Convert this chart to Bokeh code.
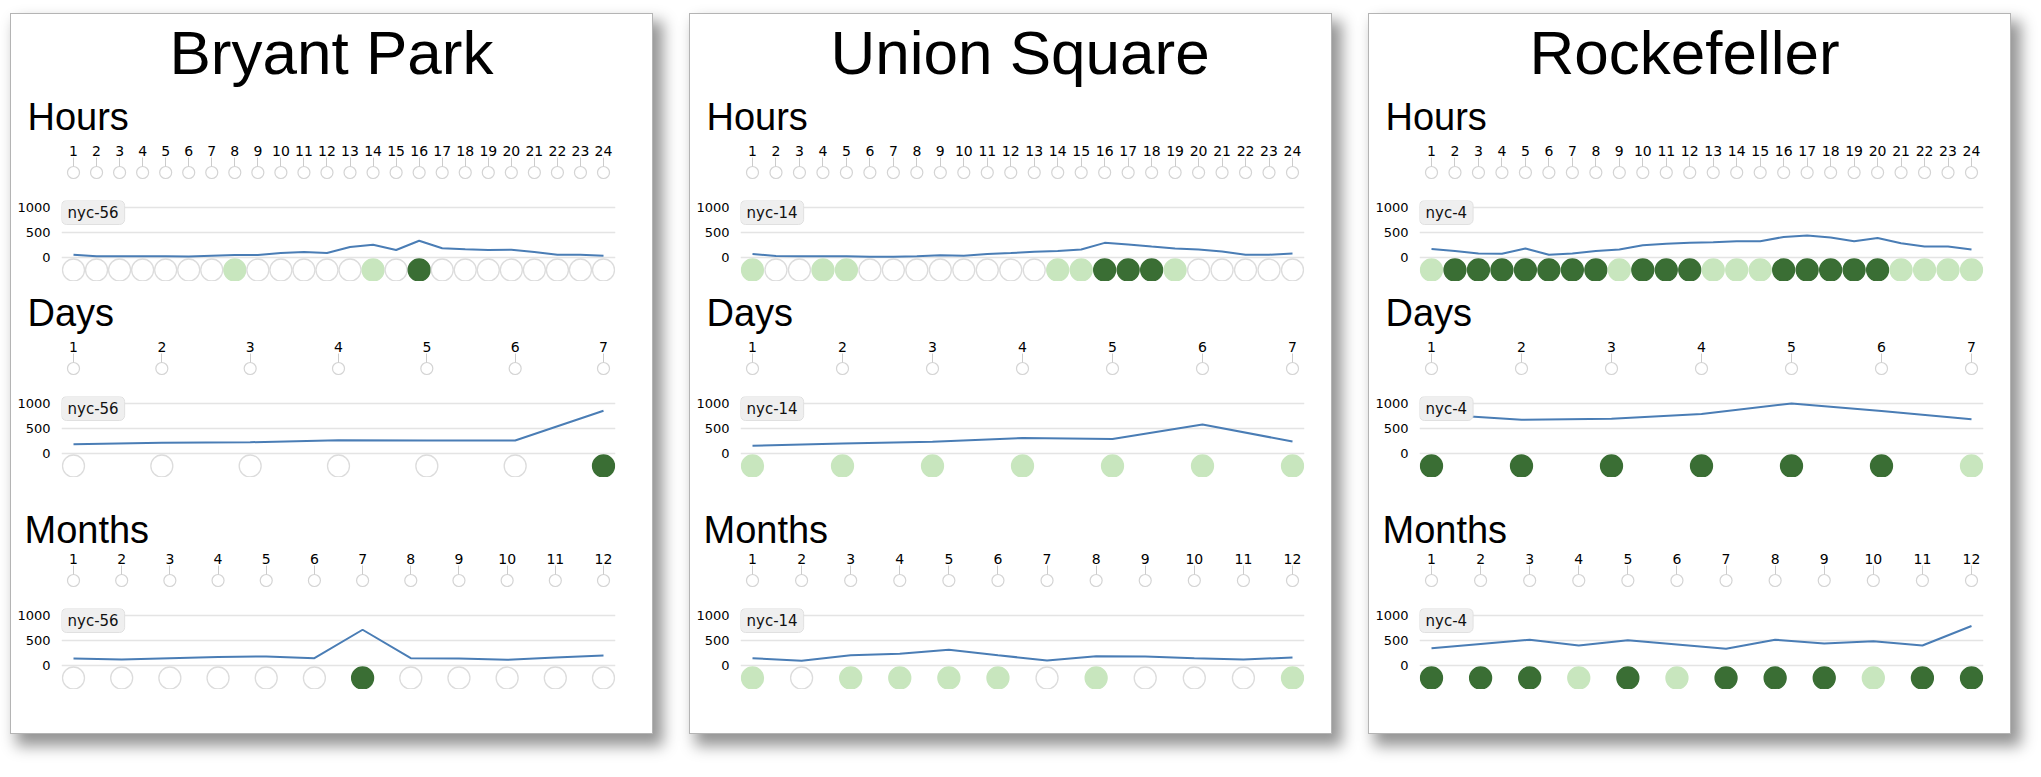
from bokeh.plotting import figure
from bokeh.layouts import column, row
from bokeh.models import Range1d, FixedTicker, Label, Spacer
from bokeh.embed import file_html
from bokeh.resources import INLINE

# ---------------- data ----------------
hours = list(range(1, 25))
days = list(range(1, 8))
months = list(range(1, 13))

station_names = ["Bryant Park", "Union Square", "Rockefeller"]
station_ids = ["nyc-56", "nyc-14", "nyc-4"]

# counts per hour / day / month
bp_hours = [45, 15, 15, 15, 15, 10, 25, 40, 40, 80, 100, 80, 200, 245, 140, 325, 175, 155, 140, 145, 100, 45, 45, 25]
bp_days = [175, 205, 215, 255, 250, 250, 845]
bp_months = [130, 110, 137, 158, 171, 137, 705, 137, 130, 103, 150, 192]

us_hours = [60, 20, 13, 13, 13, 7, 7, 13, 33, 26, 60, 79, 105, 118, 150, 283, 250, 210, 171, 150, 112, 46, 46, 72]
us_days = [145, 190, 225, 300, 280, 570, 230]
us_months = [136, 84, 195, 227, 305, 195, 91, 175, 169, 136, 110, 149]

rk_hours = [158, 118, 72, 66, 171, 46, 72, 118, 151, 237, 263, 283, 296, 316, 316, 401, 428, 388, 316, 382, 276, 211, 211, 151]
rk_days = [780, 665, 685, 780, 990, 840, 675]
rk_months = [337, 422, 506, 389, 493, 409, 325, 506, 428, 474, 389, 779]

# status level per slot: 0 = none, 1 = light, 2 = dark
bp_hours_lvl = [0, 0, 0, 0, 0, 0, 0, 1, 0, 0, 0, 0, 0, 1, 0, 2, 0, 0, 0, 0, 0, 0, 0, 0]
bp_days_lvl = [0, 0, 0, 0, 0, 0, 2]
bp_months_lvl = [0, 0, 0, 0, 0, 0, 2, 0, 0, 0, 0, 0]

us_hours_lvl = [1, 0, 0, 1, 1, 0, 0, 0, 0, 0, 0, 0, 0, 1, 1, 2, 2, 2, 1, 0, 0, 0, 0, 0]
us_days_lvl = [1, 1, 1, 1, 1, 1, 1]
us_months_lvl = [1, 0, 1, 1, 1, 1, 0, 1, 0, 0, 0, 1]

rk_hours_lvl = [1, 2, 2, 2, 2, 2, 2, 2, 1, 2, 2, 2, 1, 1, 1, 2, 2, 2, 2, 2, 1, 1, 1, 1]
rk_days_lvl = [2, 2, 2, 2, 2, 2, 1]
rk_months_lvl = [2, 2, 2, 1, 2, 1, 2, 2, 2, 1, 2, 2]

section_names = ["Hours", "Days", "Months"]
y_ticks = [0, 500, 1000]

# ---------------- style ----------------
FILL = {0: "white", 1: "#c8e6be", 2: "#3a6e34"}
EDGE = {0: "#dcdcdc", 1: "#c8e6be", 2: "#3a6e34"}
LINE_COLOR = "#4a7db5"
HEAD_FONT = "Liberation Sans"
TICK_FONT = "DejaVu Sans"

INNER_W = 641
ML = 50
PAD = 12
CHART_FRAME_H = 81       # plot area of line chart + status row
STATUS_FROM_BOTTOM = 11.5  # status row centre above plot-area bottom (px)


def xr(cats, mr):
    frame_w = INNER_W - ML - mr
    n = len(cats)
    step = (frame_w - 2 * PAD) / (n - 1)
    return Range1d(cats[0] - PAD / step, cats[-1] + PAD / step)


def base(height, top, cats, yr, mr, xloc=None, yloc=None, title=None):
    p = figure(width=INNER_W, height=height, output_backend="svg", toolbar_location=None,
               x_range=xr(cats, mr), y_range=yr, x_axis_location=xloc, y_axis_location=yloc,
               min_border_left=ML, min_border_right=mr, min_border_top=top, min_border_bottom=0,
               title=title)
    p.outline_line_color = None
    p.background_fill_color = "white"
    p.border_fill_color = "white"
    p.xgrid.visible = False
    p.ygrid.visible = False
    return p


def title_fig(name, mr, offset):
    p = base(73, 72, hours, Range1d(0, 1), mr, title=name)
    p.title.text_font = HEAD_FONT
    p.title.text_font_size = "62px"
    p.title.text_font_style = "normal"
    p.title.text_color = "black"
    p.title.align = "left"
    p.title.offset = offset
    p.title.standoff = 0
    return p


def selector_fig(name, cats, height, top, offset, lift, mr):
    p = base(height, top, cats, Range1d(-1, 1), mr, xloc="above", title=name)
    p.title.text_font = HEAD_FONT
    p.title.text_font_size = "38px"
    p.title.text_font_style = "normal"
    p.title.text_color = "black"
    p.title.align = "left"
    p.title.offset = offset
    p.title.standoff = 0
    p.title.padding = dict(left=0, right=0, top=0, bottom=lift)
    ax = p.xaxis[0]
    ax.ticker = FixedTicker(ticks=cats)
    ax.axis_line_color = None
    ax.major_tick_out = 0
    ax.major_tick_in = 9
    ax.major_tick_line_color = "#cccccc"
    ax.minor_tick_line_color = None
    ax.major_label_standoff = 2
    ax.major_label_text_font = TICK_FONT
    ax.major_label_text_font_size = "14px"
    ax.major_label_text_color = "#000000"
    p.scatter(x=cats, y=[0] * len(cats), size=12, fill_color="white",
              line_color="#d4d4d4", line_width=1.2)
    return p


def chart_fig(cats, vals, lvls, sid, mr):
    # value axis: 20 units per pixel; 1000 sits 6.5 px below the top of the plot area
    y_end = 1000 + 6.5 * 20
    y_start = y_end - CHART_FRAME_H * 20
    p = base(13 + CHART_FRAME_H, 13, cats, Range1d(y_start, y_end), mr, yloc="left")
    p.extra_y_ranges = {"status": Range1d(-1, CHART_FRAME_H / STATUS_FROM_BOTTOM - 1)}
    ax = p.yaxis[0]
    ax.ticker = FixedTicker(ticks=y_ticks)
    ax.axis_line_color = None
    ax.major_tick_line_color = None
    ax.minor_tick_line_color = None
    ax.major_label_standoff = 5
    ax.major_label_text_font = TICK_FONT
    ax.major_label_text_font_size = "13px"
    ax.major_label_text_color = "#000000"
    p.ygrid.visible = True
    p.ygrid.grid_line_color = "#e4e4e4"
    p.ygrid.grid_line_width = 1.5
    p.line(cats, vals, line_color=LINE_COLOR, line_width=2)
    p.scatter(x=cats, y=[0] * len(cats), size=22, y_range_name="status",
              fill_color=[FILL[v] for v in lvls], line_color=[EDGE[v] for v in lvls],
              line_width=1.3)
    lab = Label(x=p.x_range.start, y=p.y_range.end, text=sid,
                text_font=TICK_FONT, text_font_size="15px", text_color="#111111",
                text_align="left", text_baseline="top",
                background_fill_color="#efefef", border_line_color="#e0e0e0",
                border_radius=5, padding=dict(left=6, right=6, top=3, bottom=3))
    p.add_layout(lab)
    return p


def panel(name, sid, data, mr, title_offset):
    kids = [title_fig(name, mr, title_offset)]
    geo = [(100, 70, -34, 5), (102, 72, -34, 5), (118, 88, -37, 0)]
    for (sec, cats, vals, lvls), (h, top, off, lift) in zip(data, geo):
        kids.append(selector_fig(sec, cats, h, top, off, lift, mr))
        kids.append(chart_fig(cats, vals, lvls, sid, mr))
    kids.append(Spacer(width=INNER_W, height=44))
    return column(*kids, spacing=0, styles={
        "border": "1px solid #b4b4b4",
        "background-color": "white",
        "box-shadow": "8px 10px 14px 2px rgba(0,0,0,0.42)",
    })


all_data = [
    [("Hours", hours, bp_hours, bp_hours_lvl), ("Days", days, bp_days, bp_days_lvl),
     ("Months", months, bp_months, bp_months_lvl)],
    [("Hours", hours, us_hours, us_hours_lvl), ("Days", days, us_days, us_days_lvl),
     ("Months", months, us_months, us_months_lvl)],
    [("Hours", hours, rk_hours, rk_hours_lvl), ("Days", days, rk_days, rk_days_lvl),
     ("Months", months, rk_months, rk_months_lvl)],
]
right_margins = [37, 27, 27]
title_offsets = [108, 90, 110]

panels = [panel(n, s, d, m, o) for n, s, d, m, o in
          zip(station_names, station_ids, all_data, right_margins, title_offsets)]
layout = column(
    Spacer(width=10, height=13),
    row(Spacer(width=10, height=10), panels[0], Spacer(width=36, height=10), panels[1],
        Spacer(width=36, height=10), panels[2], spacing=0),
    spacing=0,
)

open("out.html", "w").write(file_html(layout, INLINE))
